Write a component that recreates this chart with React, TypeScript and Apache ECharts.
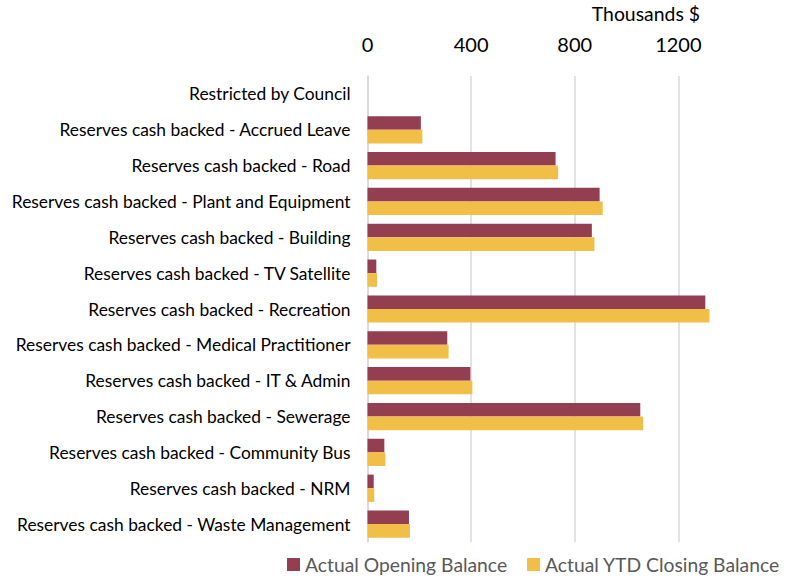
import React, { useEffect, useRef } from "react";
import * as echarts from "echarts";

const categories = [
  "Restricted by Council",
  "Reserves cash backed - Accrued Leave",
  "Reserves cash backed - Road",
  "Reserves cash backed - Plant and Equipment",
  "Reserves cash backed - Building",
  "Reserves cash backed - TV Satellite",
  "Reserves cash backed - Recreation",
  "Reserves cash backed - Medical Practitioner",
  "Reserves cash backed - IT & Admin",
  "Reserves cash backed - Sewerage",
  "Reserves cash backed - Community Bus",
  "Reserves cash backed - NRM",
  "Reserves cash backed - Waste Management",
];

const openingBalance = [0, 206, 726, 896, 866, 34, 1304, 308, 397, 1053, 65, 24, 160];
const closingBalance = [0, 212, 736, 908, 876, 37, 1320, 313, 405, 1064, 69, 26, 164];

const seriesNames = ["Actual Opening Balance", "Actual YTD Closing Balance"];
const axisTitle = "Thousands $";

export default function App() {
  const ref = useRef<HTMLDivElement>(null);
  useEffect(() => {
    if (!ref.current) return;
    const chart = echarts.init(ref.current, null, { renderer: "svg" });
    const font = "Lato, 'Open Sans', sans-serif";
    chart.setOption({
      animation: false,
      textStyle: { fontFamily: font },
      grid: { left: 367.5, right: 11, top: 76, bottom: 38, containLabel: false },
      legend: {
        bottom: 6,
        left: 287,
        padding: 0,
        itemWidth: 13,
        itemHeight: 13,
        itemGap: 20,
        icon: "rect",
        textStyle: { fontSize: 19.3, color: "#595959", fontFamily: font },
        data: seriesNames,
      },
      graphic: [
        {
          type: "text",
          right: 93,
          top: 4,
          style: { text: axisTitle, fontSize: 19.4, fill: "#000", fontFamily: font },
        },
      ],
      xAxis: {
        type: "value",
        position: "top",
        min: 0,
        max: 1600,
        interval: 400,
        axisLine: { show: false },
        axisTick: { show: false },
        axisLabel: {
          fontSize: 20,
          color: "#000",
          margin: 22,
          showMaxLabel: false,
          fontFamily: font,
          formatter: (v: number) => String(v),
        },
        splitLine: { show: true, showMaxLine: false, lineStyle: { color: "#d9d9d9", width: 1.5 } },
      },
      yAxis: {
        type: "category",
        inverse: true,
        data: categories,
        axisLine: { show: true, lineStyle: { color: "#d9d9d9", width: 1.5 } },
        axisTick: { show: false },
        axisLabel: { fontSize: 17.4, color: "#000", margin: 17, fontFamily: font },
      },
      series: [
        {
          name: seriesNames[0],
          type: "bar",
          data: openingBalance,
          barGap: "0%",
          barCategoryGap: "24%",
          itemStyle: { color: "#943E52" },
        },
        {
          name: seriesNames[1],
          type: "bar",
          data: closingBalance,
          barGap: "0%",
          barCategoryGap: "24%",
          itemStyle: { color: "#F1BE48" },
        },
      ],
    });
    return () => chart.dispose();
  }, []);
  return <div ref={ref} style={{ width: 793, height: 580, position: "absolute", left: 0, top: 0 }} />;
}
